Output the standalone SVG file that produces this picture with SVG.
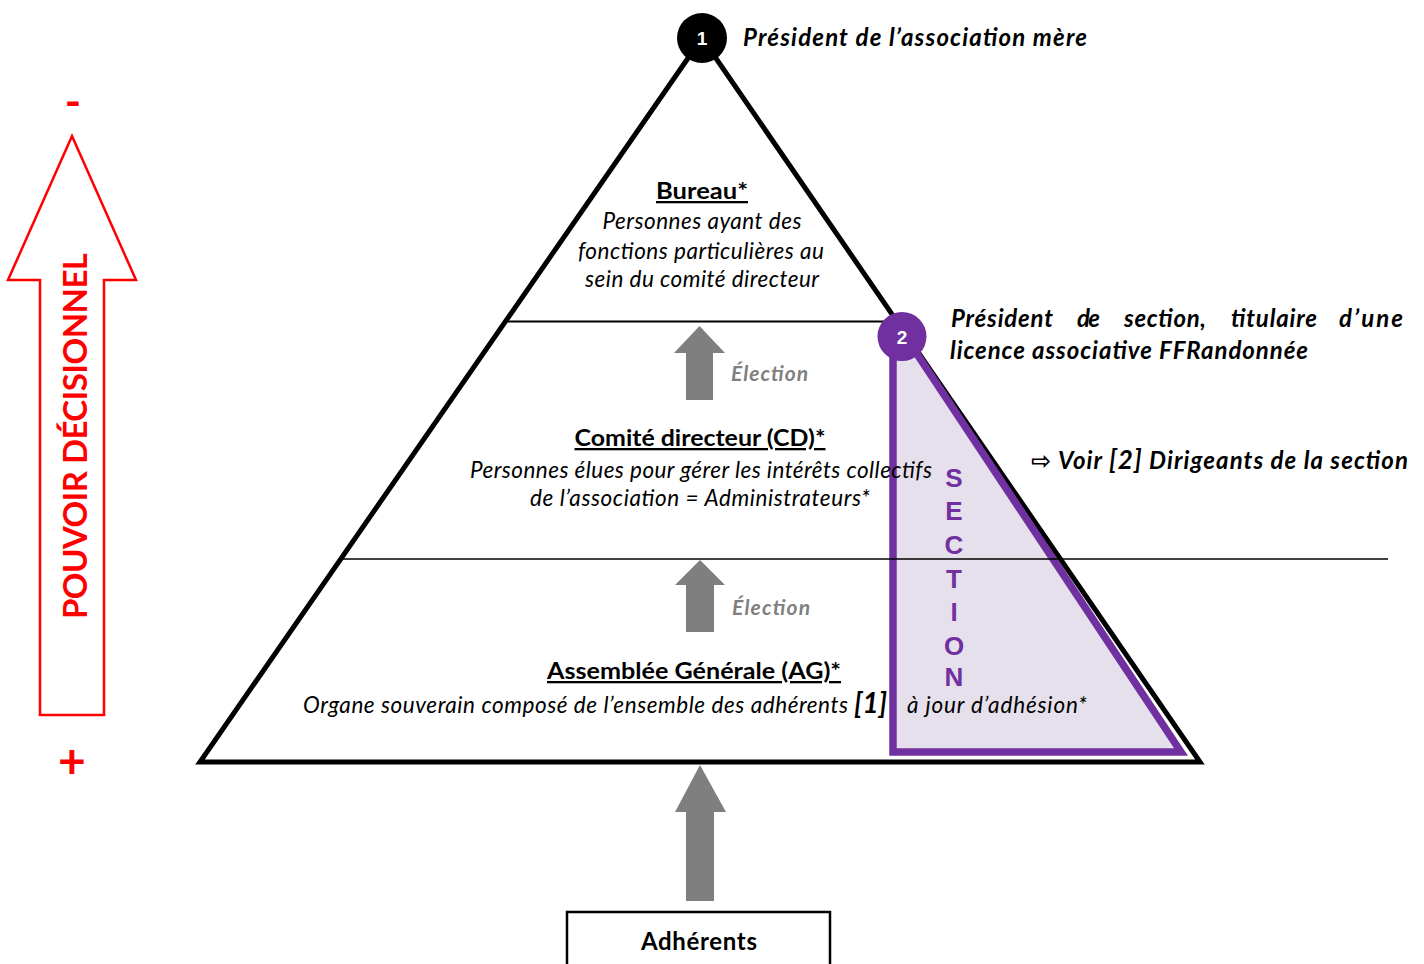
<svg xmlns="http://www.w3.org/2000/svg" width="1424" height="964" viewBox="0 0 1424 964">
<defs>
<style>
text{font-family:Lato,"Open Sans","Liberation Sans",sans-serif;fill:#000}
.h{font-weight:bold;font-size:23px;text-anchor:middle;text-decoration:underline}
.b{font-style:italic;font-size:22.5px;text-anchor:middle}
.bi{font-style:italic;font-weight:bold;font-size:24px}
.el{font-style:italic;font-weight:bold;font-size:21px;fill:#7F7F7F}
.sec{font-family:"Liberation Sans",Arial,sans-serif;font-weight:bold;font-size:26px;fill:#7030A0;text-anchor:middle}
.red{fill:#FF0000;font-weight:bold}
.num{font-family:"Liberation Sans",Arial,sans-serif;font-weight:bold;font-size:19px;fill:#fff;text-anchor:middle}
.garrow{fill:#7F7F7F}
</style>
</defs>
<rect width="1424" height="964" fill="#fff"/>

<g id="pyramid">
<polygon points="702,38 200,762 1200,762" fill="#fff" stroke="#000" stroke-width="5"/>
</g>

<g id="section">
<polygon points="893,345 893,752 1181,752 911,345" fill="#E6E0EC" stroke="#7030A0" stroke-width="7.5"/>
<text class="sec" x="954" y="487">S</text>
<text class="sec" x="954" y="520">E</text>
<text class="sec" x="954" y="554">C</text>
<text class="sec" x="954" y="588">T</text>
<text class="sec" x="954" y="621">I</text>
<text class="sec" x="954" y="655">O</text>
<text class="sec" x="954" y="686">N</text>
</g>

<g id="levels">
<line x1="505" y1="321.5" x2="885" y2="321.5" stroke="#000" stroke-width="2"/>
<line x1="342" y1="559" x2="1388" y2="559" stroke="#000" stroke-width="1.5"/>
</g>

<g id="connectors">
<path class="garrow" d="M699.5,326 L725,353 L713,353 L713,400 L686,400 L686,353 L674,353 Z"/>
<path class="garrow" d="M700,560 L725,585 L714,585 L714,632 L686,632 L686,585 L675,585 Z"/>
<path class="garrow" d="M700,765 L726,812 L714,812 L714,901 L686,901 L686,812 L675,812 Z"/>
<text class="el" x="731" y="381" textLength="77">Élection</text>
<text class="el" x="732" y="615" textLength="78">Élection</text>
</g>

<g id="bureau">
<text class="h" x="702" y="199" textLength="92" lengthAdjust="spacingAndGlyphs">Bureau*</text>
<text class="b" x="702" y="229" textLength="199">Personnes ayant des</text>
<text class="b" x="701" y="259" textLength="246">fonctions particulières au</text>
<text class="b" x="702" y="287" textLength="234">sein du comité directeur</text>
</g>

<g id="comite">
<text class="h" x="700" y="446" textLength="251" lengthAdjust="spacingAndGlyphs">Comité directeur (CD)*</text>
<text class="b" x="701" y="478" textLength="462">Personnes élues pour gérer les intérêts collectifs</text>
<text class="b" x="700" y="506" textLength="340">de l’association = Administrateurs*</text>
</g>

<g id="assemblee">
<text class="h" x="694" y="679" textLength="294" lengthAdjust="spacingAndGlyphs">Assemblée Générale (AG)*</text>
<text style="font-style:italic;font-size:22.5px" y="713"><tspan x="303" textLength="545">Organe souverain composé de l’ensemble des adhérents</tspan><tspan x="854" style="font-weight:bold;font-size:28px" textLength="33">[1]</tspan><tspan x="907" textLength="180">à jour d’adhésion*</tspan></text>
</g>

<g id="president1">
<circle cx="702" cy="38" r="25" fill="#000"/>
<text class="num" x="702" y="45">1</text>
<text class="bi" x="743" y="46" textLength="344">Président de l’association mère</text>
</g>

<g id="president2">
<circle cx="902" cy="336.5" r="24.5" fill="#7030A0"/>
<text class="num" x="902" y="343.5">2</text>
<text class="bi" y="327"><tspan x="951" textLength="102">Président</tspan><tspan x="1077" textLength="23">de</tspan><tspan x="1124" textLength="82">section,</tspan><tspan x="1231" textLength="86">titulaire</tspan><tspan x="1339" textLength="64">d’une</tspan></text>
<text class="bi" x="950" y="359" textLength="358">licence associative FFRandonnée</text>
<text class="bi" y="469"><tspan x="1031" style="font-family:'DejaVu Sans',sans-serif;font-size:24px;font-weight:bold;font-style:normal">⇨</tspan><tspan x="1058" textLength="350">Voir <tspan style="font-size:26px">[2]</tspan> Dirigeants de la section</tspan></text>
</g>

<g id="adherents">
<rect x="567" y="912" width="263" height="70" fill="#fff" stroke="#000" stroke-width="2.5"/>
<text x="699" y="950" style="font-weight:bold;font-size:24px;text-anchor:middle" textLength="116">Adhérents</text>
</g>

<g id="pouvoir">
<polygon points="72,136 136,280 104,280 104,715 40,715 40,280 8,280" fill="none" stroke="#FF0000" stroke-width="2.5"/>
<text class="red" transform="translate(87,436) rotate(-90)" x="0" y="0" style="font-size:33px;text-anchor:middle" textLength="366">POUVOIR DÉCISIONNEL</text>
<text class="red" x="73" y="117" style="font-size:44px;text-anchor:middle">-</text>
<text class="red" x="72" y="778" style="font-size:48px;text-anchor:middle">+</text>
</g>
</svg>
